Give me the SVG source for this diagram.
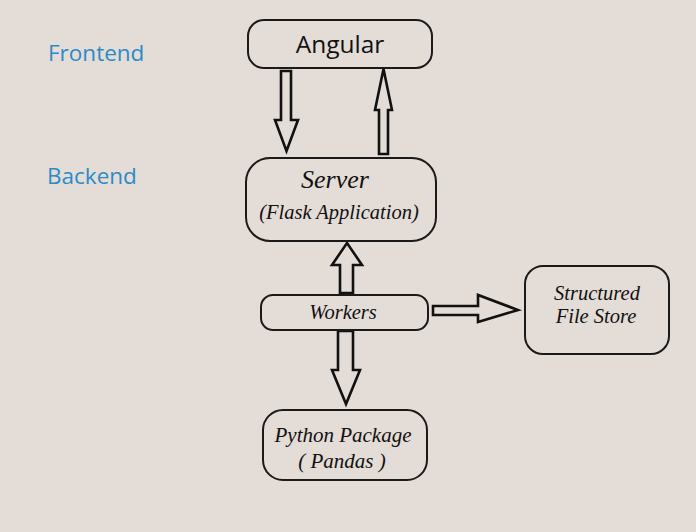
<svg xmlns="http://www.w3.org/2000/svg" width="696" height="532" viewBox="0 0 696 532">
<style>
.box{fill:none;stroke:#1a1a1a;stroke-width:2}
.arr{fill:#e4dcd7;stroke:#111;stroke-width:2.6;stroke-linejoin:miter}
.lbl{font-family:"Liberation Serif",serif;font-style:italic;fill:#111;text-anchor:middle}
.side{font-family:"Open Sans","Noto Sans",sans-serif;fill:#2b8bc8;font-size:22.5px}
</style>
<rect width="696" height="532" fill="#e4dcd7"/>
<text class="side" x="48" y="61">Frontend</text>
<text class="side" x="47" y="184">Backend</text>
<g id="connectors">
<polygon class="arr" points="281,71 291,71 291,120 298,120 286.5,151 275,120 281,120"/>
<polygon class="arr" points="379,154 388,154 388,110 392,110 383.5,69 375,110 379,110"/>
<polygon class="arr" points="340,293 353,293 353,265 362,265 347,243 332,265 340,265"/>
<polygon class="arr" points="338,331 353,331 353,370 360,370 346,404 332,370 338,370"/>
<polygon class="arr" points="433,306 478,306 478,295 518,310 478,322 478,315 433,315"/>
</g>
<g id="angular">
<rect class="box" x="248" y="20" width="184" height="48" rx="16"/>
<text x="340" y="53" font-family="Open Sans,Noto Sans,sans-serif" font-size="24.5" fill="#111" text-anchor="middle">Angular</text>
</g>
<g id="server">
<rect class="box" x="246" y="158" width="190" height="83" rx="24"/>
<text class="lbl" x="335" y="188" font-size="26">Server</text>
<text class="lbl" x="339" y="219" font-size="20.5">(Flask Application)</text>
</g>
<g id="workers">
<rect class="box" x="261" y="295" width="167" height="35" rx="12"/>
<text class="lbl" x="343" y="319" font-size="20.5">Workers</text>
</g>
<g id="python">
<rect class="box" x="263" y="410" width="164" height="70" rx="20"/>
<text class="lbl" x="343" y="442" font-size="21">Python Package</text>
<text class="lbl" x="342" y="468" font-size="21">( Pandas )</text>
</g>
<g id="filestore">
<rect class="box" x="525" y="266" width="144" height="88" rx="18"/>
<text class="lbl" x="597" y="300" font-size="20.5">Structured</text>
<text class="lbl" x="596" y="323" font-size="20.5">File Store</text>
</g>
</svg>
